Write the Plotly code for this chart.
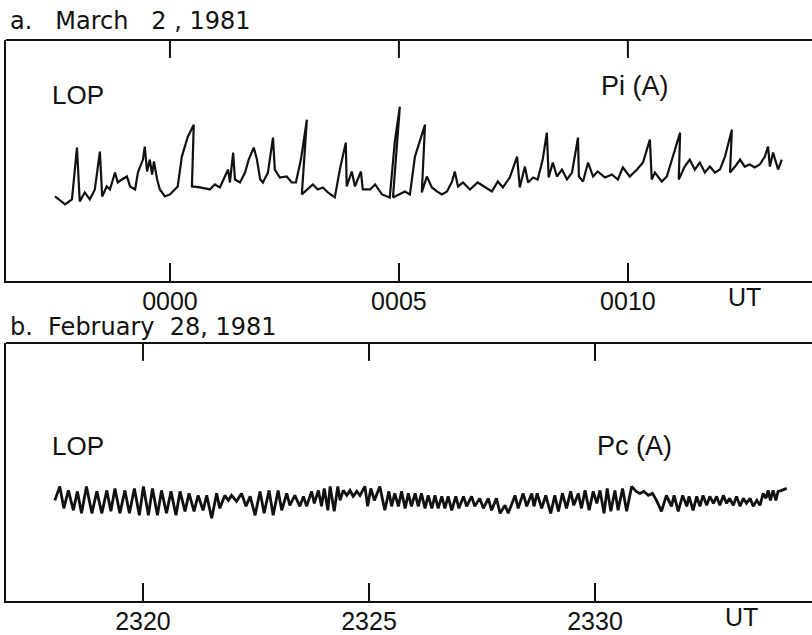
import plotly.graph_objects as go

# ---- Panel a: Pi(A), LOP, March 2, 1981 (minutes after 00:00 UT, relative amplitude) ----
pi_time = [-2.51, -2.29, -2.14, -2.03, -1.97, -1.86, -1.75, -1.64, -1.53, -1.48, -1.38, -1.31,
           -1.20, -1.14, -1.05, -0.94, -0.87, -0.76, -0.70, -0.59, -0.55, -0.50, -0.44, -0.39,
           -0.35, -0.28, -0.22, -0.11, 0.00, 0.11, 0.17, 0.26, 0.39, 0.52, 0.48, 0.66, 0.87,
           0.98, 1.09, 1.20, 1.27, 1.31, 1.38, 1.42, 1.53, 1.64, 1.72, 1.83, 1.90, 1.97, 2.03,
           2.14, 2.25, 2.29, 2.40, 2.55, 2.66, 2.75, 2.86, 2.99, 2.88, 3.12, 3.23, 3.34, 3.45,
           3.60, 3.71, 3.84, 3.86, 3.97, 4.04, 4.17, 4.21, 4.37, 4.48, 4.63, 4.72, 4.80, 4.91,
           5.02, 4.87, 5.13, 5.24, 5.35, 5.57, 5.50, 5.61, 5.72, 5.83, 5.94, 6.05, 6.16, 6.22,
           6.29, 6.40, 6.55, 6.72, 6.88, 7.03, 7.16, 7.27, 7.42, 7.58, 7.64, 7.75, 7.82, 7.93,
           8.03, 8.14, 8.23, 8.27, 8.36, 8.45, 8.56, 8.67, 8.78, 8.91, 8.93, 9.02, 9.13, 9.24,
           9.34, 9.50, 9.65, 9.78, 9.89, 10.04, 10.20, 10.33, 10.48, 10.52, 10.59, 10.74, 10.85,
           10.98, 11.14, 11.11, 11.24, 11.35, 11.46, 11.57, 11.68, 11.79, 11.90, 12.01, 12.12,
           12.27, 12.23, 12.34, 12.45, 12.55, 12.66, 12.77, 12.88, 12.99, 13.06, 13.10, 13.17,
           13.28, 13.36]
pi_amp = [85, 77, 82, 134, 80, 89, 82, 92, 130, 85, 95, 92,
          109, 99, 102, 105, 95, 92, 109, 122, 135, 110, 122, 107,
          120, 102, 92, 85, 87, 92, 95, 125, 145, 157, 95, 94, 92,
          97, 94, 105, 112, 99, 129, 102, 99, 109, 122, 134, 122, 102, 99,
          109, 144, 112, 104, 105, 99, 99, 122, 162, 87, 97, 92, 94, 89,
          84, 112, 139, 95, 110, 95, 110, 92, 92, 97, 87, 85, 84, 140,
          175, 84, 90, 87, 125, 157, 89, 105, 94, 90, 87, 90, 100, 110,
          95, 99, 92, 99, 94, 90, 100, 94, 104, 125, 94, 115, 99, 104,
          102, 122, 149, 104, 119, 105, 112, 102, 109, 144, 105, 100, 119, 105,
          110, 104, 107, 102, 114, 105, 112, 119, 142, 102, 109, 100, 105,
          125, 149, 102, 115, 122, 112, 119, 109, 115, 109, 112, 125,
          152, 109, 115, 122, 115, 117, 114, 117, 125, 135, 115, 129,
          112, 122]

# ---- Panel b: Pc(A), LOP, February 28, 1981 (minutes after 23:20 UT, relative amplitude) ----
pc_time = [-1.95, -1.84, -1.75, -1.65, -1.54, -1.45, -1.36, -1.25, -1.13, -1.02, -0.91, -0.80,
           -0.71, -0.62, -0.51, -0.40, -0.30, -0.19, -0.08, 0.01, 0.12, 0.21, 0.32, 0.41, 0.52,
           0.62, 0.73, 0.82, 0.93, 1.02, 1.13, 1.22, 1.33, 1.41, 1.52, 1.63, 1.70, 1.81, 1.89,
           1.96, 2.07, 2.18, 2.28, 2.37, 2.48, 2.59, 2.68, 2.79, 2.88, 2.99, 3.07, 3.18,
           3.25, 3.36, 3.47, 3.55, 3.62, 3.73, 3.79, 3.88, 3.95, 4.01, 4.09, 4.14, 4.23, 4.31,
           4.36, 4.43, 4.51, 4.58, 4.65, 4.73, 4.80, 4.91, 4.97, 5.04, 5.12, 5.24, 5.35, 5.44,
           5.50, 5.57, 5.65, 5.72, 5.80, 5.87, 5.94, 6.02, 6.09, 6.16, 6.24, 6.31, 6.39, 6.46,
           6.53, 6.61, 6.68, 6.75, 6.83, 6.92, 6.99, 7.09, 7.16, 7.27, 7.34, 7.45, 7.53, 7.64,
           7.71, 7.82, 7.90, 8.01, 8.08, 8.23, 8.30, 8.41, 8.49, 8.60,
           8.65, 8.72, 8.82, 8.91, 9.02, 9.11, 9.19, 9.28, 9.37, 9.46, 9.53, 9.63, 9.70, 9.78,
           9.87, 9.96, 10.04, 10.11, 10.20, 10.27, 10.35, 10.44, 10.51, 10.61, 10.70, 10.81,
           10.91, 10.99, 11.08, 11.18, 11.27, 11.36, 11.47, 11.58, 11.69, 11.75, 11.84, 11.94,
           12.03, 12.08, 12.17, 12.25, 12.32, 12.39, 12.47, 12.54, 12.62, 12.69, 12.76, 12.84,
           12.91, 12.98, 13.06, 13.13, 13.21, 13.28, 13.35, 13.43, 13.50, 13.58, 13.65, 13.72,
           13.78, 13.83, 13.88, 13.94, 14.00, 14.05, 14.13, 14.24]
pc_amp = [101, 115, 93, 111, 91, 110, 88, 115, 88, 110, 88, 111,
          90, 113, 88, 111, 88, 113, 86, 115, 86, 113, 86, 111, 88,
          110, 86, 110, 90, 108, 90, 106, 91, 106, 83, 108, 93, 106, 101,
          106, 100, 108, 95, 105, 86, 110, 88, 111, 86, 111, 91, 108,
          96, 106, 95, 105, 95, 110, 98, 111, 95, 113, 91, 115, 90, 115,
          101, 111, 106, 111, 105, 110, 106, 115, 95, 113, 101, 115, 91, 110,
          95, 108, 95, 110, 93, 108, 95, 108, 95, 108, 93, 106, 93, 106,
          93, 105, 93, 105, 91, 105, 93, 105, 95, 105, 95, 103, 93, 103,
          91, 103, 88, 96, 88, 106, 93, 108, 95, 108,
          95, 108, 93, 106, 88, 106, 90, 108, 93, 110, 96, 108, 93, 111,
          91, 110, 98, 111, 88, 113, 90, 111, 91, 113, 90, 115,
          110, 108, 110, 106, 108, 101, 90, 106, 95, 106, 90, 106,
          95, 105, 91, 105, 95, 106, 96, 105, 98, 105, 96, 106,
          98, 103, 96, 105, 95, 103, 98, 103, 95, 101, 96, 108,
          103, 111, 101, 111, 101, 110, 111, 113]

tick_vals = [0, 5, 10]
ticks_a = ["0000", "0005", "0010"]
ticks_b = ["2320", "2325", "2330"]
range_a = [-3.58, 14.02]
range_b = [-3.03, 14.80]
amp_range_a = [0, 242]
amp_range_b = [0, 259]

INK = "#111111"
TICK_FONT = dict(family="Liberation Sans, Arial, sans-serif", size=25, color=INK)
TITLE_FONT = dict(family="DejaVu Sans, sans-serif", size=24, color=INK)
LABEL_FONT = dict(family="Liberation Sans, Arial, sans-serif", size=26, color=INK)
TICK_LEN = 18

fig = go.Figure()
fig.add_trace(go.Scatter(x=pi_time, y=pi_amp, mode="lines", xaxis="x", yaxis="y",
                         line=dict(color=INK, width=2.2), showlegend=False, hoverinfo="skip"))
fig.add_trace(go.Scatter(x=pc_time, y=pc_amp, mode="lines", xaxis="x2", yaxis="y2",
                         line=dict(color=INK, width=2.8), showlegend=False, hoverinfo="skip"))

common_x = dict(showgrid=False, zeroline=False, showline=True, linecolor=INK, linewidth=2,
                ticks="inside", ticklen=TICK_LEN, tickwidth=2, tickcolor=INK, mirror=False,
                ticklabelstandoff=-3,
                tickmode="array", tickvals=tick_vals, tickfont=TICK_FONT, fixedrange=True)
common_y = dict(showgrid=False, zeroline=False, showline=True, linecolor=INK, linewidth=2,
                mirror=False, ticks="", showticklabels=False, fixedrange=True)

fig.update_layout(
    width=812, height=635,
    margin=dict(l=6, r=0, t=40, b=32),
    paper_bgcolor="white", plot_bgcolor="white",
    xaxis=dict(domain=[0, 1], anchor="y", range=range_a, ticktext=ticks_a, **common_x),
    yaxis=dict(domain=[0.5702, 1], anchor="x", range=amp_range_a, **common_y),
    xaxis2=dict(domain=[0, 1], anchor="y2", range=range_b, ticktext=ticks_b, **common_x),
    yaxis2=dict(domain=[0, 0.46], anchor="x2", range=amp_range_b, **common_y),
)

# top frame edge with inward ticks (open on the right, as in the original)
shapes = []
for xr, yr, amp_range in (("x", "y", amp_range_a), ("x2", "y2", amp_range_b)):
    shapes.append(dict(type="line", xref=xr + " domain", yref=yr + " domain",
                       x0=0, x1=1, y0=1, y1=1, line=dict(color=INK, width=2)))
    frac = TICK_LEN / (amp_range[1] - amp_range[0])
    for tv in tick_vals:
        shapes.append(dict(type="line", xref=xr, yref=yr + " domain",
                           x0=tv, x1=tv, y0=1, y1=1 - frac, line=dict(color=INK, width=2)))
fig.update_layout(shapes=shapes)

nb = "\u00a0"
annotations = [
    dict(text="a." + nb * 3 + "March" + nb * 3 + "2" + nb + "," + nb + "1981",
         xref="paper", yref="y domain", x=0, y=1, xanchor="left", yanchor="bottom",
         xshift=2, yshift=3, showarrow=False, font=TITLE_FONT),
    dict(text="b." + nb * 2 + "February" + nb * 2 + "28," + nb + "1981",
         xref="paper", yref="y2 domain", x=0, y=1, xanchor="left", yanchor="bottom",
         xshift=2, yshift=0, showarrow=False, font=TITLE_FONT),
    dict(text="LOP", xref="x domain", yref="y domain", x=0.055, y=0.77,
         xanchor="left", yanchor="middle", showarrow=False, font=LABEL_FONT),
    dict(text="Pi (A)", xref="x domain", yref="y domain", x=0.78, y=0.81,
         xanchor="center", yanchor="middle", showarrow=False,
         font=dict(LABEL_FONT, size=27)),
    dict(text="LOP", xref="x2 domain", yref="y2 domain", x=0.055, y=0.60,
         xanchor="left", yanchor="middle", showarrow=False, font=LABEL_FONT),
    dict(text="Pc (A)", xref="x2 domain", yref="y2 domain", x=0.78, y=0.60,
         xanchor="center", yanchor="middle", showarrow=False,
         font=dict(LABEL_FONT, size=27)),
    dict(text="UT", xref="x", yref="y domain", x=12.55, y=0, xanchor="center", yanchor="top",
         yshift=0, showarrow=False, font=TICK_FONT),
    dict(text="UT", xref="x2", yref="y2 domain", x=13.25, y=0, xanchor="center", yanchor="top",
         yshift=0, showarrow=False, font=TICK_FONT),
]
fig.update_layout(annotations=annotations)

fig.write_html("out.html", config={"displayModeBar": False},
               post_script="document.body.style.margin='0px';")
